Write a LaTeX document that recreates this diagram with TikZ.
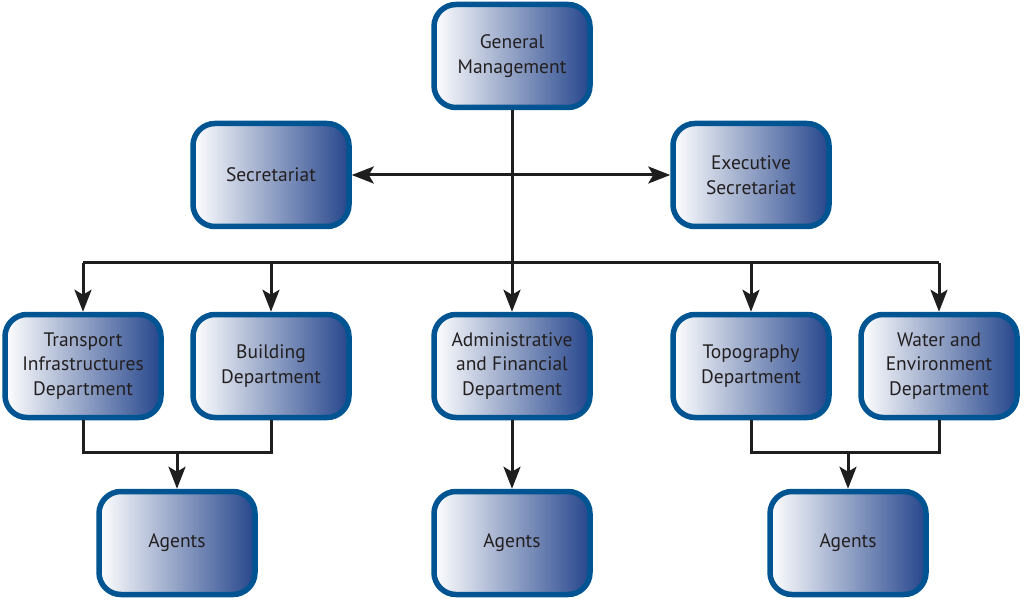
\documentclass[tikz,border=0pt]{standalone}
\usepackage{fontspec}
\setmainfont{PT Sans}
\usetikzlibrary{arrows.meta}
\definecolor{bordercol}{RGB}{0,84,146}
\definecolor{shadecol}{RGB}{38,70,140}
\definecolor{linecol}{RGB}{30,30,30}
\definecolor{textcol}{RGB}{35,31,32}
\tikzset{
  box/.style={draw=bordercol, line width=5.5pt, rounded corners=22pt,
    left color=white, right color=shadecol, minimum width=156pt, minimum height=103pt,
    align=center, font=\fontsize{19.5}{24.5}\selectfont, text=textcol, inner sep=2pt},
  conn/.style={draw=linecol, line width=3pt},
  tip/.style={},
  arr/.style={conn, -{Stealth[length=22pt,width=17pt,inset=5pt]}},
  darr/.style={conn, {Stealth[length=22pt,width=17pt,inset=5pt]}-{Stealth[length=22pt,width=17pt,inset=5pt]}}
}
\begin{document}
\begin{tikzpicture}[x=1pt,y=-1pt]
\useasboundingbox (0,0) rectangle (1024,601);
\node[box] (gm) at (512,56) {General\\Management};
\node[box] (sec) at (271,175) {Secretariat};
\node[box] (exe) at (751,175) {Executive\\Secretariat};
\node[box] (tra) at (83,366) {Transport\\Infrastructures\\Department};
\node[box] (bld) at (271,366) {Building\\Department};
\node[box] (adm) at (512,366) {Administrative\\and Financial\\Department};
\node[box] (top) at (751,366) {Topography\\Department};
\node[box] (wat) at (939,366) {Water and\\Environment\\Department};
\node[box] (ag1) at (177,543) {Agents};
\node[box] (ag2) at (512,543) {Agents};
\node[box] (ag3) at (848,543) {Agents};

\coordinate (hub) at (512,263);
\draw[conn] (gm.south) -- (hub);
\draw[darr] (sec.east) -- (exe.west);
\draw[conn] (tra.north |- hub) -- (wat.north |- hub);
\draw[arr] (hub) -- (adm.north);
\draw[arr] (tra.north |- hub) -- (tra.north);
\draw[arr] (bld.north |- hub) -- (bld.north);
\draw[arr] (top.north |- hub) -- (top.north);
\draw[arr] (wat.north |- hub) -- (wat.north);

\coordinate (j1) at (177,452);
\coordinate (j3) at (848,452);
\draw[conn] (tra.south) -- (tra.south |- j1) -- (bld.south |- j1) -- (bld.south);
\draw[arr] (j1) -- (ag1.north);
\draw[conn] (top.south) -- (top.south |- j3) -- (wat.south |- j3) -- (wat.south);
\draw[arr] (j3) -- (ag3.north);
\draw[arr] (adm.south) -- (ag2.north);
\end{tikzpicture}
\end{document}
